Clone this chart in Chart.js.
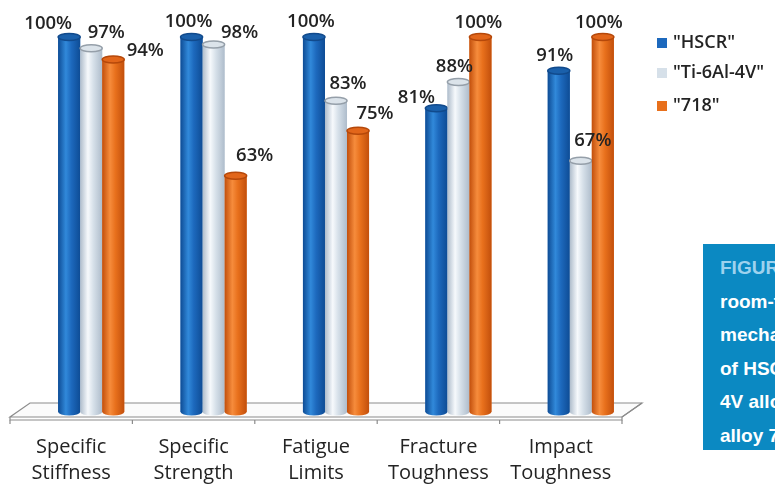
<!DOCTYPE html>
<html>
<head>
<meta charset="utf-8">
<script src="https://cdn.jsdelivr.net/npm/chart.js@4/dist/chart.umd.min.js"></script>
<style>
  html, body { margin: 0; padding: 0; background: #ffffff; overflow: hidden; }
  #wrap { position: relative; width: 775px; height: 487px; }
  #chart { position: absolute; left: 0; top: 0; }
  #caption {
    position: absolute; left: 703px; top: 244px; width: 220px; height: 206px;
    background: #0b89c2; color: #ffffff;
    font-family: "Liberation Sans", Arial, sans-serif;
    font-weight: bold; font-size: 19px; line-height: 33.6px;
    padding: 7px 0 0 17px; box-sizing: border-box; white-space: nowrap;
  }
  #caption .fig { color: #9ed2ee; }
</style>
</head>
<body>
<div id="wrap">
  <canvas id="chart" width="775" height="487"></canvas>
  <div id="caption"><span class="fig">FIGURE 2</span> Comparison of<br>room-temperature<br>mechanical properties<br>of HSCR, Ti-6Al-<br>4V alloy, and<br>alloy 718.</div>
</div>
<script>
// Normalised room-temperature properties (%), by category
const categories = [
  ["Specific", "Stiffness"],
  ["Specific", "Strength"],
  ["Fatigue", "Limits"],
  ["Fracture", "Toughness"],
  ["Impact", "Toughness"]
];
const seriesNames = ['"HSCR"', '"Ti-6Al-4V"', '"718"'];
const hscr   = [100, 100, 100, 81, 91];
const ti64   = [97, 98, 83, 88, 67];
const in718  = [94, 63, 75, 100, 100];

// cylinder palettes
const palettes = [
  { solid: '#1d69bd', edge: '#0e4c95', light: '#3189da', top: '#1a60ab', rim: '#114a8c' },
  { solid: '#d6e0e9', edge: '#aebccb', light: '#f6f9fc', top: '#dbe3ea', rim: '#959fa9' },
  { solid: '#e8701c', edge: '#c24f0c', light: '#f68c3c', top: '#e2661a', rim: '#b5480a' }
];

// label placement relative to each bar top (dx, dy above)
const labelDX = [
  [-21, -3, -3, -20, -4],
  [15, 26, 12, -4, 12],
  [32, 19, 17, -2, -4]
];
const labelDY = [
  [13, 15, 15, 11, 15],
  [16, 12, 17, 15, 20],
  [9, 20, 17, 14, 14]
];

const DEPTH_X = 20;   // floor depth offset
const textColor = '#232323';
const FONT = '"Open Sans", Lato, sans-serif';

const cylinders = {
  id: 'cylinders',
  beforeDatasetsDraw(chart) {
    // 3D floor slab under the columns
    const ctx = chart.ctx;
    const xs = chart.scales.x;
    const base = chart.scales.y.getPixelForValue(0);
    const L = xs.left, R = xs.right;
    const backY = base - 9, frontY = base + 5;
    ctx.save();
    ctx.lineWidth = 1.2;
    ctx.strokeStyle = '#8c8c8c';
    ctx.fillStyle = '#fbfbfb';
    ctx.beginPath();
    ctx.moveTo(L, backY);
    ctx.lineTo(R, backY);
    ctx.lineTo(R - DEPTH_X, frontY);
    ctx.lineTo(L - DEPTH_X, frontY);
    ctx.closePath();
    ctx.fill();
    ctx.stroke();
    // slab thickness
    ctx.beginPath();
    ctx.moveTo(L - DEPTH_X, frontY);
    ctx.lineTo(L - DEPTH_X, frontY + 3);
    ctx.lineTo(R - DEPTH_X, frontY + 3);
    ctx.lineTo(R - DEPTH_X, frontY);
    ctx.lineTo(R, backY);
    ctx.stroke();
    // category tick marks along the front edge
    const n = categories.length;
    const step = (R - L) / n;
    ctx.beginPath();
    for (let i = 0; i <= n; i++) {
      const tx = L - DEPTH_X + step * i;
      ctx.moveTo(tx, frontY + 3);
      ctx.lineTo(tx, frontY + 7);
    }
    ctx.stroke();
    ctx.restore();
  },
  afterDatasetsDraw(chart) {
    const ctx = chart.ctx;
    // cylinders
    chart.data.datasets.forEach((ds, di) => {
      const meta = chart.getDatasetMeta(di);
      const p = palettes[di];
      meta.data.forEach((el) => {
        const { x, y, base, width } = el.getProps(['x', 'y', 'base', 'width'], true);
        const rx = width / 2, ry = 3.5;
        ctx.save();
        const g = ctx.createLinearGradient(x - rx, 0, x + rx, 0);
        g.addColorStop(0, p.edge);
        g.addColorStop(0.35, p.light);
        g.addColorStop(0.6, p.solid);
        g.addColorStop(1, p.edge);
        ctx.fillStyle = g;
        ctx.beginPath();
        ctx.moveTo(x - rx, y);
        ctx.lineTo(x - rx, base);
        ctx.ellipse(x, base, rx, ry, 0, Math.PI, 0, true);
        ctx.lineTo(x + rx, y);
        ctx.closePath();
        ctx.fill();
        ctx.beginPath();
        ctx.ellipse(x, y, rx, ry, 0, 0, Math.PI * 2);
        ctx.fillStyle = p.top;
        ctx.fill();
        ctx.lineWidth = 1.5;
        ctx.strokeStyle = p.rim;
        ctx.stroke();
        ctx.restore();
      });
    });
    // value labels on top of everything
    ctx.save();
    ctx.font = '600 18.5px ' + FONT;
    ctx.fillStyle = textColor;
    ctx.textAlign = 'center';
    ctx.textBaseline = 'middle';
    chart.data.datasets.forEach((ds, di) => {
      chart.getDatasetMeta(di).data.forEach((el, j) => {
        const { x, y } = el.getProps(['x', 'y'], true);
        ctx.fillText(ds.data[j] + '%', x + labelDX[di][j], y - labelDY[di][j]);
      });
    });
    ctx.restore();
  },
  afterDraw(chart) {
    // legend
    const ctx = chart.ctx;
    const rowY = [43, 73, 106];
    ctx.save();
    ctx.font = '600 18px ' + FONT;
    ctx.textBaseline = 'middle';
    ctx.textAlign = 'left';
    chart.data.datasets.forEach((ds, i) => {
      ctx.fillStyle = palettes[i].solid;
      ctx.fillRect(657, rowY[i] - 5, 10, 10);
      ctx.fillStyle = textColor;
      ctx.fillText(ds.label, 673, rowY[i]);
    });
    ctx.restore();
  }
};

new Chart(document.getElementById('chart'), {
  type: 'bar',
  data: {
    labels: categories,
    datasets: [
      { label: seriesNames[0], data: hscr,  backgroundColor: palettes[0].solid },
      { label: seriesNames[1], data: ti64,  backgroundColor: palettes[1].solid },
      { label: seriesNames[2], data: in718, backgroundColor: palettes[2].solid }
    ]
  },
  options: {
    responsive: false,
    animation: false,
    events: [],
    layout: { padding: { left: 30, right: 133, top: 37, bottom: 0 } },
    datasets: { bar: { categoryPercentage: 0.54, barPercentage: 1.0 } },
    plugins: {
      legend: { display: false },
      tooltip: { enabled: false }
    },
    scales: {
      y: { display: false, min: 0, max: 100 },
      x: {
        grid: { display: false, drawTicks: false },
        border: { display: false },
        afterFit(scale) { scale.height = 75; },
        ticks: {
          labelOffset: -DEPTH_X,
          padding: 22,
          maxRotation: 0,
          autoSkip: false,
          color: textColor,
          font: { family: FONT, size: 20, weight: '500', lineHeight: 1.3 }
        }
      }
    }
  },
  plugins: [cylinders]
});
</script>
</body>
</html>
